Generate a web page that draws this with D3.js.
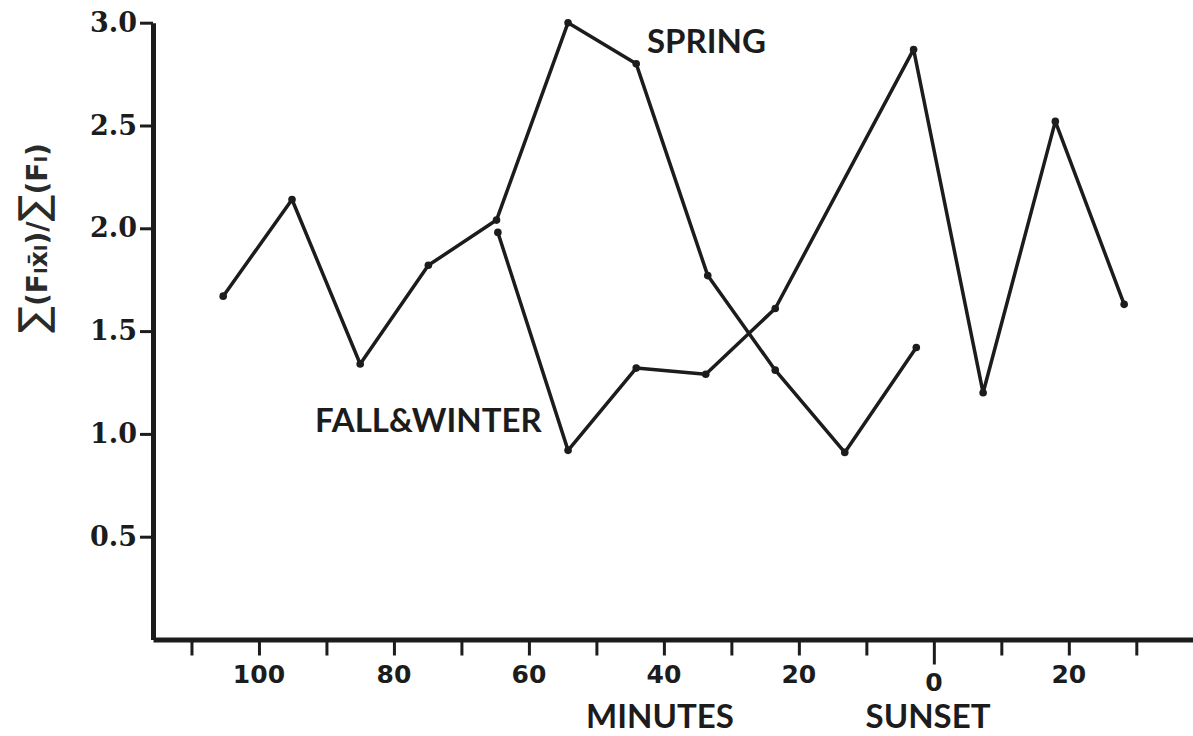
<!DOCTYPE html>
<html>
<head>
<meta charset="utf-8">
<script src="https://cdn.jsdelivr.net/npm/d3@7"></script>
<style>
  html, body { margin: 0; padding: 0; background: #fff; }
  svg { display: block; }
</style>
</head>
<body>
<svg id="chart" width="1193" height="736"></svg>
<script>
// Minutes relative to sunset (negative = before sunset)
const springMinutes = [-105.3, -95.1, -85.0, -74.9, -64.8, -54.2, -44.1, -33.5, -23.5, -13.2, -2.6];
const springValues  = [1.67, 2.14, 1.34, 1.82, 2.04, 3.00, 2.80, 1.77, 1.31, 0.91, 1.42];

const fallMinutes = [-64.6, -54.2, -44.1, -33.8, -23.5, -3.0, 7.3, 18.0, 28.2];
const fallValues  = [1.98, 0.92, 1.32, 1.29, 1.61, 2.87, 1.20, 2.52, 1.63];

const xTickValues = [-110, -100, -90, -80, -70, -60, -50, -40, -30, -20, -10, 0, 10, 20, 30];
const xLabelValues = [-100, -80, -60, -40, -20, 0, 20];
const xLabelText = ["100", "80", "60", "40", "20", "0", "20"];
const yTickValues = [0.5, 1.0, 1.5, 2.0, 2.5, 3.0];

const ink = '#1c1c1c';
const svg = d3.select('#chart');

const x = d3.scaleLinear().domain([-115.7, 38.4]).range([153, 1193]);
const y = d3.scaleLinear().domain([0, 3]).range([639.5, 22.7]);

// X axis
const xAxis = svg.append('g')
    .attr('transform', `translate(0, ${y(0)})`)
    .call(d3.axisBottom(x)
        .tickValues(xTickValues)
        .tickSize(16)
        .tickSizeOuter(0)
        .tickFormat(''));
xAxis.select('.domain').attr('stroke', ink).attr('stroke-width', 5);
xAxis.selectAll('.tick line')
    .attr('stroke', ink)
    .attr('stroke-width', 3)
    .attr('y2', d => d === 0 ? 25 : 16);

// x tick labels (every 20 minutes, "0" sits lower)
svg.append('g').selectAll('text')
    .data(xLabelValues)
    .join('text')
    .attr('x', d => x(d))
    .attr('y', d => d === 0 ? 691 : 683)
    .attr('text-anchor', 'middle')
    .style('font-family', "'DejaVu Sans', sans-serif")
    .style('font-weight', 'bold')
    .style('font-size', '25px')
    .attr('fill', ink)
    .text((d, i) => xLabelText[i]);

// Y axis
const yAxis = svg.append('g')
    .attr('transform', `translate(${x.range()[0]}, 0)`)
    .call(d3.axisLeft(y)
        .tickValues(yTickValues)
        .tickSize(13)
        .tickSizeOuter(0)
        .tickPadding(3)
        .tickFormat(d3.format('.1f')));
yAxis.select('.domain').attr('stroke', ink).attr('stroke-width', 5);
yAxis.selectAll('.tick line').attr('stroke', ink).attr('stroke-width', 3);
yAxis.selectAll('.tick text')
    .attr('fill', ink)
    .style('font-family', "'DejaVu Serif', serif")
    .style('font-weight', 'bold')
    .style('font-size', '27px');

// Y axis title
const yTitle = svg.append('text')
    .attr('transform', 'translate(47, 238) rotate(-90)')
    .attr('text-anchor', 'middle')
    .attr('fill', '#2a2a2a')
    .style('font-family', "'DejaVu Sans', sans-serif")
    .style('font-weight', 'bold');
yTitle.append('tspan').style('font-size', '40px').style('font-weight', 'normal').text('∑');
yTitle.append('tspan').style('font-size', '28px').text('(F');
yTitle.append('tspan').style('font-size', '18px').text('I');
yTitle.append('tspan').style('font-size', '25px').text('x̄');
yTitle.append('tspan').style('font-size', '18px').text('I');
yTitle.append('tspan').style('font-size', '28px').text(')/');
yTitle.append('tspan').style('font-size', '40px').style('font-weight', 'normal').text('∑');
yTitle.append('tspan').style('font-size', '28px').text('(F');
yTitle.append('tspan').style('font-size', '18px').text('I');
yTitle.append('tspan').style('font-size', '28px').text(')');

// Series lines
const line = d3.line().x(d => x(d[0])).y(d => y(d[1]));
const series = [
    d3.zip(springMinutes, springValues),
    d3.zip(fallMinutes, fallValues)
];

series.forEach(pts => {
    svg.append('path')
        .datum(pts)
        .attr('d', line)
        .attr('fill', 'none')
        .attr('stroke', ink)
        .attr('stroke-width', 3.5)
        .attr('stroke-linejoin', 'round');

    svg.append('g').selectAll('circle')
        .data(pts)
        .join('circle')
        .attr('cx', d => x(d[0]))
        .attr('cy', d => y(d[1]))
        .attr('r', 3.8)
        .attr('fill', ink);
});

// Text labels
const labelStyle = sel => sel
    .attr('fill', ink)
    .style('font-family', "Lato, 'Open Sans', sans-serif")
    .style('font-weight', 'bold')
    .style('font-size', '33px');

svg.append('text').attr('x', 647).attr('y', 53).call(labelStyle).text('SPRING');
svg.append('text').attr('x', 315).attr('y', 432).call(labelStyle).text('FALL&WINTER');
svg.append('text').attr('x', 660).attr('y', 728).attr('text-anchor', 'middle').call(labelStyle).text('MINUTES');
svg.append('text').attr('x', 928).attr('y', 728).attr('text-anchor', 'middle').call(labelStyle).text('SUNSET');
</script>
</body>
</html>
